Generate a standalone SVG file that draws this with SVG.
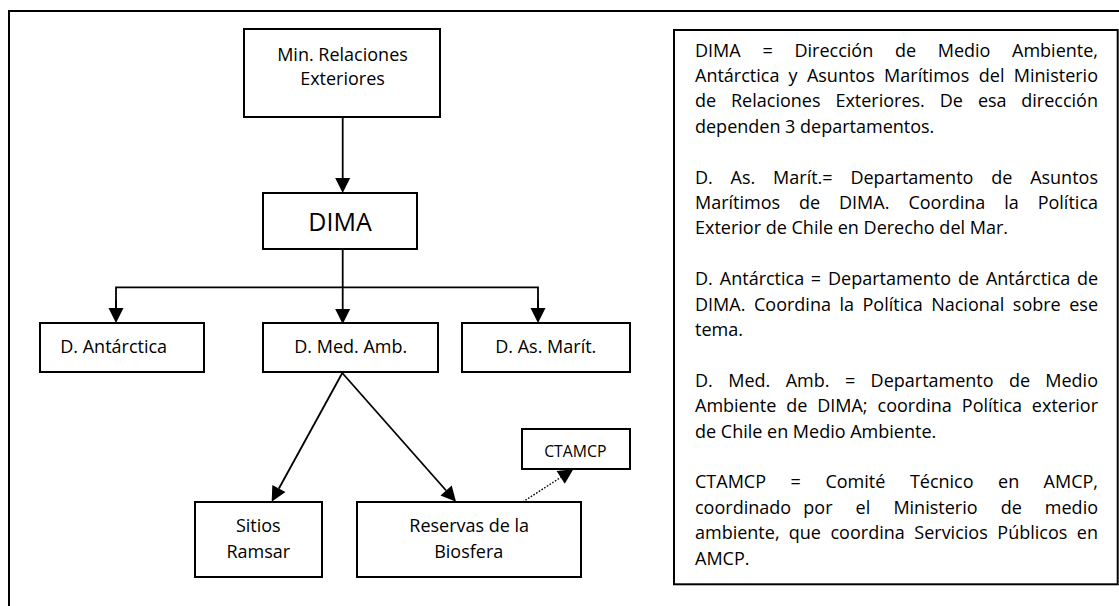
<svg xmlns="http://www.w3.org/2000/svg" width="1119" height="606" viewBox="0 0 1119 606">
  <style>
    .box { fill: #fff; stroke: #000; stroke-width: 2; }
    .lbl { font-family: "Open Sans", "Liberation Sans", sans-serif; font-size: 18px; fill: #000; text-anchor: middle; }
    .big { font-size: 25px; }
    .sm { font-size: 15.8px; }
    .conn { fill: none; stroke: #000; stroke-width: 1.8; }
    .dot { fill: none; stroke: #000; stroke-width: 1.4; stroke-dasharray: 1.6 1.6; }
    .note { font-family: "Open Sans", "Liberation Sans", sans-serif; font-size: 18px; fill: #000; }
    .end { text-anchor: end; }
  </style>
  <defs>
    <marker id="arrow" markerUnits="userSpaceOnUse" markerWidth="16" markerHeight="16" refX="0" refY="7.5" orient="auto" overflow="visible">
      <path d="M0,0 L15,7.5 L0,15 Z" fill="#000"/>
    </marker>
  </defs>

  <rect width="1119" height="606" fill="#fff"/>

  <!-- outer frame (runs past the right and bottom edges) -->
  <path d="M9,608 V11 H1121" fill="none" stroke="#000" stroke-width="2"/>

  <!-- connectors -->
  <g id="connectors">
    <line class="conn" x1="342.7" y1="117" x2="342.7" y2="178" marker-end="url(#arrow)"/>
    <line class="conn" x1="342.7" y1="249" x2="342.7" y2="309" marker-end="url(#arrow)"/>
    <polyline class="conn" points="116,308 116,287.3 538,287.3 538,308"/>
    <line class="conn" x1="116" y1="300" x2="116" y2="308" marker-end="url(#arrow)"/>
    <line class="conn" x1="538" y1="300" x2="538" y2="308" marker-end="url(#arrow)"/>
    <line class="conn" x1="342.3" y1="373" x2="278.9" y2="488.5" marker-end="url(#arrow)"/>
    <line class="conn" x1="342.3" y1="373" x2="446.1" y2="490.5" marker-end="url(#arrow)"/>
    <line class="dot" x1="522.7" y1="502" x2="560.7" y2="477.4" marker-end="url(#arrow)"/>
  </g>

  <g id="min-relaciones">
    <rect class="box" x="244" y="29" width="196" height="88"/>
    <text class="lbl" x="342.5" y="60.5">Min. Relaciones</text>
    <text class="lbl" x="342.5" y="84.5">Exteriores</text>
  </g>

  <g id="dima">
    <rect class="box" x="263" y="193" width="154" height="56"/>
    <text class="lbl big" x="340" y="230.5">DIMA</text>
  </g>

  <g id="d-antarctica">
    <rect class="box" x="40" y="323" width="164" height="49"/>
    <text class="lbl" x="113.7" y="353.3">D. Antárctica</text>
  </g>

  <g id="d-med-amb">
    <rect class="box" x="263" y="323" width="175" height="49"/>
    <text class="lbl" x="350.8" y="353.3">D. Med. Amb.</text>
  </g>

  <g id="d-as-marit">
    <rect class="box" x="462" y="323" width="168" height="49"/>
    <text class="lbl" x="545.8" y="353.3">D. As. Marít.</text>
  </g>

  <g id="sitios-ramsar">
    <rect class="box" x="195" y="502" width="127" height="75"/>
    <text class="lbl" x="258.3" y="531.7">Sitios</text>
    <text class="lbl" x="258.3" y="557.7">Ramsar</text>
  </g>

  <g id="reservas-biosfera">
    <rect class="box" x="357" y="502" width="224" height="75"/>
    <text class="lbl" x="469.2" y="531.7">Reservas de la</text>
    <text class="lbl" x="468.7" y="557.7">Biosfera</text>
  </g>

  <g id="ctamcp">
    <rect class="box" x="522" y="429" width="108" height="40"/>
    <text class="lbl sm" x="575.3" y="456.7">CTAMCP</text>
  </g>

  <!-- glossary panel; justified lines place each word, the last one flush right -->
  <g id="glossary">
    <rect class="box" x="674" y="30" width="443.7" height="554.3"/>

    <text class="note" y="56.5"><tspan x="695">DIMA</tspan><tspan x="762.5">=</tspan><tspan x="794.5">Dirección</tspan><tspan x="894.9">de</tspan><tspan x="937.7">Medio</tspan></text>
    <text class="note end" x="1098" y="56.5">Ambiente,</text>

    <text class="note" y="81.9"><tspan x="695">Antárctica</tspan><tspan x="788.5">y</tspan><tspan x="806.9">Asuntos</tspan><tspan x="884.1">Marítimos</tspan><tspan x="978.8">del</tspan></text>
    <text class="note end" x="1098" y="81.9">Ministerio</text>

    <text class="note" y="107.3"><tspan x="695">de</tspan><tspan x="731">Relaciones</tspan><tspan x="835.4">Exteriores.</tspan><tspan x="939.8">De</tspan><tspan x="977.9">esa</tspan></text>
    <text class="note end" x="1098" y="107.3">dirección</text>

    <text class="note" x="695" y="132.7">dependen 3 departamentos.</text>

    <text class="note" y="183.5"><tspan x="695">D.</tspan><tspan x="730.6">As.</tspan><tspan x="773.1">Marít.=</tspan><tspan x="850.4">Departamento</tspan><tspan x="991.2">de</tspan></text>
    <text class="note end" x="1098" y="183.5">Asuntos</text>

    <text class="note" y="208.9"><tspan x="695">Marítimos</tspan><tspan x="799.1">de</tspan><tspan x="839">DIMA.</tspan><tspan x="908.4">Coordina</tspan><tspan x="1004.3">la</tspan></text>
    <text class="note end" x="1098" y="208.9">Política</text>

    <text class="note" x="695" y="234.3">Exterior de Chile en Derecho del Mar.</text>

    <text class="note" y="285.1"><tspan x="695">D.</tspan><tspan x="719.8">Antárctica</tspan><tspan x="810.8">=</tspan><tspan x="828">Departamento</tspan><tspan x="957.9">de</tspan><tspan x="985.9">Antárctica</tspan></text>
    <text class="note end" x="1098" y="285.1">de</text>

    <text class="note" y="310.5"><tspan x="695">DIMA.</tspan><tspan x="754">Coordina</tspan><tspan x="839.5">la</tspan><tspan x="862.5">Política</tspan><tspan x="931.2">Nacional</tspan><tspan x="1012.8">sobre</tspan></text>
    <text class="note end" x="1098" y="310.5">ese</text>

    <text class="note" x="695" y="335.9">tema.</text>

    <text class="note" y="386.7"><tspan x="695">D.</tspan><tspan x="728.2">Med.</tspan><tspan x="785.7">Amb.</tspan><tspan x="845">=</tspan><tspan x="870.6">Departamento</tspan><tspan x="1009">de</tspan></text>
    <text class="note end" x="1098" y="386.7">Medio</text>

    <text class="note" y="412.1"><tspan x="695">Ambiente</tspan><tspan x="786.2">de</tspan><tspan x="817.2">DIMA;</tspan><tspan x="877.6">coordina</tspan><tspan x="961.8">Política</tspan></text>
    <text class="note end" x="1098" y="412.1">exterior</text>

    <text class="note" x="695" y="437.5">de Chile en Medio Ambiente.</text>

    <text class="note" y="488.3"><tspan x="695">CTAMCP</tspan><tspan x="790.6">=</tspan><tspan x="825.4">Comité</tspan><tspan x="909.9">Técnico</tspan><tspan x="998.1">en</tspan></text>
    <text class="note end" x="1098" y="488.3">AMCP,</text>

    <text class="note" y="513.7"><tspan x="695">coordinado</tspan><tspan x="803.3">por</tspan><tspan x="855.6">el</tspan><tspan x="893.4">Ministerio</tspan><tspan x="1000.7">de</tspan></text>
    <text class="note end" x="1098" y="513.7">medio</text>

    <text class="note" y="539.1"><tspan x="695">ambiente,</tspan><tspan x="788.8">que</tspan><tspan x="830.5">coordina</tspan><tspan x="914.3">Servicios</tspan><tspan x="997.3">Públicos</tspan></text>
    <text class="note end" x="1098" y="539.1">en</text>

    <text class="note" x="695" y="564.5">AMCP.</text>
  </g>
</svg>
